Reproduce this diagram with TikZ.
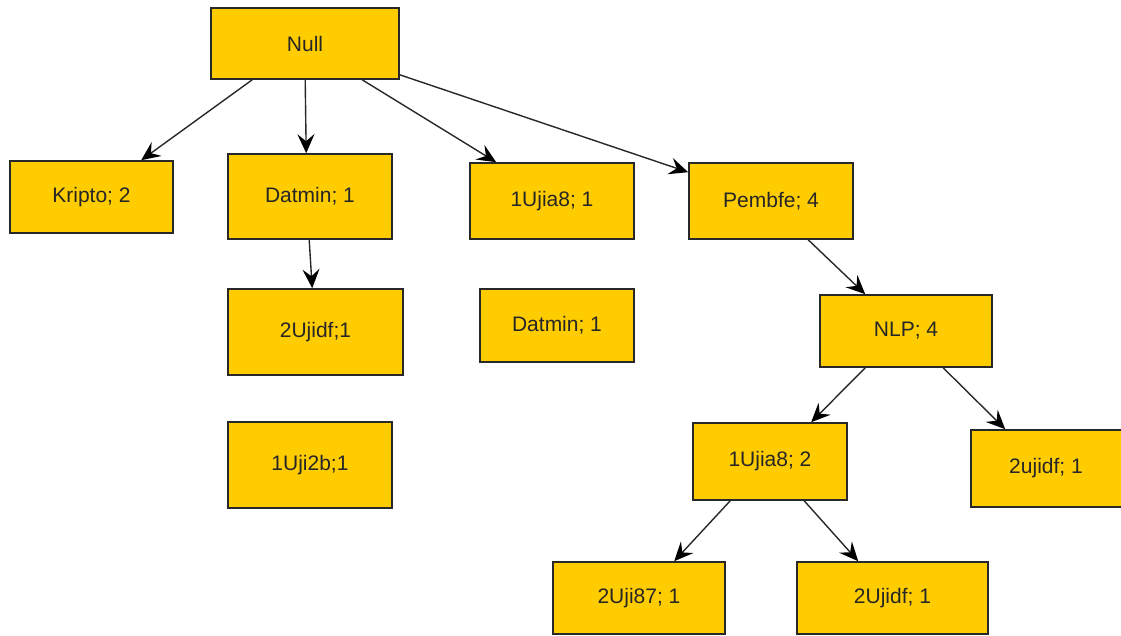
\documentclass[tikz,border=0pt]{standalone}
\usepackage{fontspec}
\setmainfont{Liberation Sans}
\usetikzlibrary{arrows.meta,calc}
\definecolor{boxfill}{RGB}{255,204,0}
\definecolor{edge}{RGB}{40,40,40}
\begin{document}
\begin{tikzpicture}[x=1pt,y=-1pt,
  box/.style={draw=edge,line width=1.6pt,fill=boxfill,inner sep=0pt,font=\fontsize{21}{25}\selectfont,text=black!85},
  link/.style={draw=edge,line width=1.4pt,-{Stealth[length=19pt,width=17pt,inset=7pt,color=black]}}]
\fill[white] (0,0) rectangle (1121,635);
\useasboundingbox (0,0) rectangle (1121,635);
\node[box,minimum width=188pt,minimum height=71pt] (null) at (305,43.5) {Null};
\node[box,minimum width=163pt,minimum height=72pt] (kripto) at (91.5,197) {Kripto; 2};
\node[box,minimum width=164pt,minimum height=85pt] (datmin) at (310,196.5) {Datmin; 1};
\node[box,minimum width=164pt,minimum height=76pt] (ujia1) at (552,201) {1Ujia8; 1};
\node[box,minimum width=164pt,minimum height=76pt] (pembfe) at (771,201) {Pembfe; 4};
\node[box,minimum width=175pt,minimum height=86pt] (ujidf) at (315.5,332) {2Ujidf;1};
\node[box,minimum width=154pt,minimum height=73pt] (datmin2) at (557,325.5) {Datmin; 1};
\node[box,minimum width=164pt,minimum height=86pt] (uji2b) at (310,465) {1Uji2b;1};
\node[box,minimum width=172pt,minimum height=72pt] (nlp) at (906,331) {NLP; 4};
\node[box,minimum width=154pt,minimum height=77pt] (ujia2) at (770,461.5) {1Ujia8; 2};
\node[box,minimum width=154pt,minimum height=77pt] (ujidf2) at (1048,468.5) {\hspace*{-4pt}2ujidf; 1};
\node[box,minimum width=172pt,minimum height=72pt] (uji87) at (639,598) {2Uji87; 1};
\node[box,minimum width=191pt,minimum height=72pt] (ujidf3) at (892.5,598) {2Ujidf; 1};
\draw[link] ($(null.south west)+(42,0)$) -- ($(kripto.north west)+(132,0)$);
\draw[link] ($(null.south west)+(95,0)$) -- ($(datmin.north west)+(79,0)$);
\draw[link] ($(null.south west)+(152,0)$) -- ($(ujia1.north west)+(27,0)$);
\draw[link] ($(null.south east)+(0,-5)$) -- ($(pembfe.north west)+(0,10)$);
\draw[link] ($(datmin.south west)+(82,0)$) -- ($(ujidf.north west)+(85,0)$);
\draw[link] ($(pembfe.south west)+(120,0)$) -- ($(nlp.north west)+(46,0)$);
\draw[link] ($(nlp.south west)+(46,0)$) -- ($(ujia2.north west)+(119,0)$);
\draw[link] ($(nlp.south west)+(124,0)$) -- ($(ujidf2.north west)+(35,0)$);
\draw[link] ($(ujia2.south west)+(38,0)$) -- ($(uji87.north west)+(122,0)$);
\draw[link] ($(ujia2.south west)+(112,0)$) -- ($(ujidf3.north west)+(62,0)$);
\end{tikzpicture}
\end{document}
